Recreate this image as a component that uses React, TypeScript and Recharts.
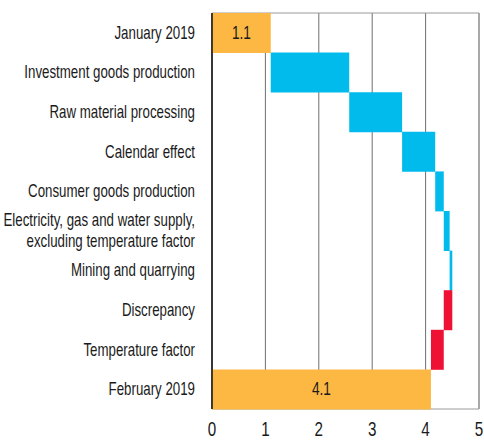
import React from 'react';
import { BarChart, Bar, XAxis, YAxis, CartesianGrid, Cell, LabelList, ReferenceArea } from 'recharts';

const categories = [
  'January 2019',
  'Investment goods production',
  'Raw material processing',
  'Calendar effect',
  'Consumer goods production',
  'Electricity, gas and water supply,\nexcluding temperature factor',
  'Mining and quarrying',
  'Discrepancy',
  'Temperature factor',
  'February 2019',
];

const startValue = 1.1;
const changes = [1.47, 0.99, 0.62, 0.16, 0.11, 0.05, -0.16, -0.24];
const endValue = 4.1;
const xTicks = [0, 1, 2, 3, 4, 5];

const colors = { total: '#FDB843', up: '#00BBEB', down: '#EE1133' };
const font = '"Liberation Sans", Arial, sans-serif';
const narrow = 0.76;

interface Row {
  name: string;
  range: [number, number];
  kind: 'total' | 'up' | 'down';
  label: string;
}

const buildRows = (): Row[] => {
  const rows: Row[] = [{ name: categories[0], range: [0, startValue], kind: 'total', label: String(startValue) }];
  let level = startValue;
  changes.forEach((c, i) => {
    const next = level + c;
    rows.push({
      name: categories[i + 1],
      range: [Math.min(level, next), Math.max(level, next)],
      kind: c >= 0 ? 'up' : 'down',
      label: '',
    });
    level = next;
  });
  rows.push({ name: categories[categories.length - 1], range: [0, endValue], kind: 'total', label: String(endValue) });
  return rows;
};

const data = buildRows();

// condensed text: the original uses a narrow face, so squeeze a regular one
const NarrowText = ({ x, y, anchor, size, children }: any) => (
  <text transform={`translate(${x},${y}) scale(${narrow},1)`} x={0} y={0} textAnchor={anchor}
    fill="#1a1a1a" fontSize={size} fontFamily={font}>
    {children}
  </text>
);

const CategoryTick = (props: any) => {
  const { x, y, payload } = props;
  const lines: string[] = String(payload.value).split('\n');
  const lineH = 21;
  const first = -((lines.length - 1) * lineH) / 2;
  return (
    <g>
      {lines.map((line, i) => (
        <NarrowText key={i} x={x - 9} y={y + first + i * lineH + 6} anchor="end" size={17.5}>
          {line}
        </NarrowText>
      ))}
    </g>
  );
};

const ValueTick = (props: any) => {
  const { x, payload } = props;
  return <NarrowText x={x} y={436} anchor="middle" size={20}>{payload.value}</NarrowText>;
};

const BarLabel = (props: any) => {
  const { x, y, width, height, value } = props;
  if (!value) return null;
  return <NarrowText x={x + width / 2} y={y + height / 2 + 6} anchor="middle" size={18}>{value}</NarrowText>;
};

export default function App() {
  return (
    <div style={{ position: 'absolute', left: 0, top: 0, width: 484, height: 442, overflow: 'hidden', background: '#fff' }}>
      <BarChart width={484} height={470} data={data} layout="vertical" barCategoryGap={0}
        margin={{ top: 13, right: 5, bottom: 21, left: 0 }}>
        <CartesianGrid horizontal={false} vertical stroke="#6f6f6f" strokeWidth={1} />
        <ReferenceArea x1={0} x2={5} fill="none" stroke="#9a9a9a" strokeWidth={1} ifOverflow="visible" />
        <XAxis type="number" domain={[0, 5]} ticks={xTicks} tickLine={false} tickSize={0}
          axisLine={false} height={40} tick={<ValueTick />} />
        <YAxis type="category" dataKey="name" width={212} interval={0} tickLine={false}
          axisLine={{ stroke: '#111', strokeWidth: 1.5 }} tick={<CategoryTick />} />
        <Bar dataKey="range" isAnimationActive={false}>
          {data.map((d, i) => (
            <Cell key={i} fill={colors[d.kind]} />
          ))}
          <LabelList dataKey="label" content={<BarLabel />} />
        </Bar>
      </BarChart>
    </div>
  );
}
